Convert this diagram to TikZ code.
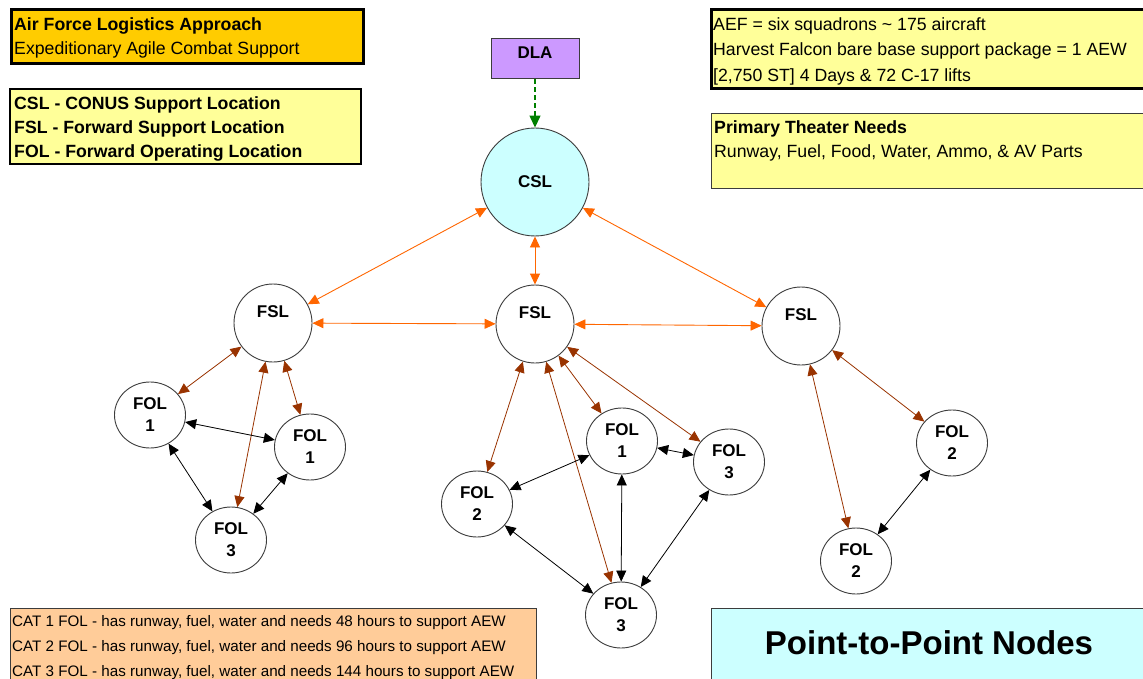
\documentclass[tikz,border=0pt]{standalone}
\usepackage{fontspec}
\setmainfont{Liberation Sans}
\usetikzlibrary{arrows.meta,shapes.geometric}

\definecolor{gold}{HTML}{FFCC00}
\definecolor{paleyellow}{HTML}{FFFF99}
\definecolor{peach}{HTML}{FFCC99}
\definecolor{palecyan}{HTML}{CCFFFF}
\definecolor{lilac}{HTML}{CC99FF}
\definecolor{linkorange}{HTML}{FF6600}
\definecolor{linkbrown}{HTML}{993300}
\definecolor{linkgreen}{HTML}{008000}
\definecolor{rimgray}{HTML}{3C3C3C}

\tikzset{
  panel/.style={draw=black, anchor=north west, inner sep=0pt},
  txt/.style={anchor=base west, inner sep=0pt, font=\fontsize{17.7}{20}\selectfont},
  smalltxt/.style={anchor=base west, inner sep=0pt, font=\fontsize{15.2}{18}\selectfont},
  site/.style={draw=rimgray, line width=0.9pt, fill=white, inner sep=0pt,
    font=\bfseries\fontsize{17}{22}\selectfont, align=center},
  hub/.style={site, circle, minimum size=108pt, fill=palecyan},
  fsl/.style={site, circle, minimum size=78pt, text height=12pt, text depth=23pt},
  fol/.style={site, ellipse, minimum width=71pt, minimum height=66pt},
  tips/.style={{Triangle[length=11pt,width=10pt]}-{Triangle[length=11pt,width=10pt]}},
  toplink/.style={tips, color=linkorange, line width=0.9pt},
  sublink/.style={tips, color=linkbrown, line width=0.8pt},
  peerlink/.style={tips, color=black, line width=0.8pt},
  supply/.style={-{Triangle[length=12pt,width=11pt]}, color=linkgreen,
    line width=1.3pt, dash pattern=on 5pt off 3pt}
}

\begin{document}
\begin{tikzpicture}[x=1pt,y=-1pt]
\useasboundingbox (0,0) rectangle (1143,679);
\clip (0,0) rectangle (1143,679);
\fill[white] (0,0) rectangle (1143,679);

% ---- information panels ----
\node[panel, fill=gold, line width=3pt, minimum width=352pt, minimum height=54pt] (approach) at (9.5,8.5) {};
\node[txt, font=\bfseries\fontsize{17.7}{20}\selectfont] (approachA) at (14,30.5) {Air Force Logistics Approach};
\node[txt] (approachB) at (14,55) {Expeditionary Agile Combat Support};

\node[panel, fill=paleyellow, line width=2pt, minimum width=351pt, minimum height=75pt] (legend) at (9,88) {};
\node[txt, font=\bfseries\fontsize{17.7}{20}\selectfont] (legendA) at (14,109.5) {CSL - CONUS Support Location};
\node[txt, font=\bfseries\fontsize{17.7}{20}\selectfont] (legendB) at (14,133.5) {FSL - Forward Support Location};
\node[txt, font=\bfseries\fontsize{17.7}{20}\selectfont] (legendC) at (14,157.5) {FOL - Forward Operating Location};

\node[panel, fill=paleyellow, line width=3pt, minimum width=460pt, minimum height=79pt] (aef) at (709.5,8.5) {};
\node[txt] (aefA) at (713,30.5) {AEF = six squadrons \textasciitilde{} 175 aircraft};
\node[txt] (aefB) at (713,55.7) {Harvest Falcon bare base support package = 1 AEW};
\node[txt] (aefC) at (713,81.5) {[2,750 ST] 4 Days \& 72 C-17 lifts};

\node[panel, draw=rimgray, fill=paleyellow, line width=1pt, minimum width=460pt, minimum height=75pt] (needs) at (710.5,113.5) {};
\node[txt, font=\bfseries\fontsize{17.7}{20}\selectfont] (needsA) at (714,133.3) {Primary Theater Needs};
\node[txt] (needsB) at (714,157.7) {Runway, Fuel, Food, Water, Ammo, \& AV Parts};

\node[panel, draw=rimgray, fill=peach, line width=1.2pt, minimum width=526pt, minimum height=100pt] (cats) at (9.5,607.5) {};
\node[smalltxt] (catA) at (12,626.5) {CAT 1 FOL - has runway, fuel, water and needs 48 hours to support AEW};
\node[smalltxt] (catB) at (12,651.5) {CAT 2 FOL - has runway, fuel, water and needs 96 hours to support AEW};
\node[smalltxt] (catC) at (12,676.5) {CAT 3 FOL - has runway, fuel, water and needs 144 hours to support AEW};

\node[panel, draw=rimgray, fill=palecyan, line width=1.2pt, minimum width=460pt, minimum height=100pt] (title) at (710.5,607.5) {};
\node[inner sep=0pt, anchor=base, font=\bfseries\fontsize{33}{40}\selectfont] (titletext) at (929,654) {Point-to-Point Nodes};

% ---- supply source and theater hub ----
\node[draw=rimgray, line width=1pt, fill=lilac, minimum width=88pt, minimum height=40pt,
  text height=12pt, text depth=13pt, font=\bfseries\fontsize{17}{20}\selectfont] (dla) at (535,59) {DLA};
\node[hub] (csl) at (535,182) {CSL};

% ---- forward support locations ----
\node[fsl] (fslL) at (273,323) {FSL};
\node[fsl] (fslM) at (535,324) {FSL};
\node[fsl] (fslR) at (801,326) {FSL};

% ---- forward operating locations ----
\node[fol] (folA1) at (150,415) {FOL\\1};
\node[fol] (folA2) at (310,447) {FOL\\1};
\node[fol] (folA3) at (231,540) {FOL\\3};

\node[fol] (folB1) at (622,441) {FOL\\1};
\node[fol] (folB2) at (729,462) {FOL\\3};
\node[fol] (folB3) at (477,504) {FOL\\2};
\node[fol] (folB4) at (621,615) {FOL\\3};

\node[fol] (folC1) at (952,443) {FOL\\2};
\node[fol] (folC2) at (856,561) {FOL\\2};

% ---- supply line ----
\draw[supply] (dla) -- (csl);

% ---- hub to forward support ----
\draw[toplink] (csl) -- (fslL);
\draw[toplink] (csl) -- (fslM);
\draw[toplink] (csl) -- (fslR);
\draw[toplink] (fslL) -- (fslM);
\draw[toplink] (fslM) -- (fslR);

% ---- forward support to operating locations ----
\draw[sublink] (fslL) -- (folA1);
\draw[sublink] (fslL) -- (folA2);
\draw[sublink] (fslL) -- (folA3);
\draw[sublink] (fslM) -- (folB3);
\draw[sublink] (fslM) -- (folB1);
\draw[sublink] (fslM) -- (folB2);
\draw[sublink] (fslM) -- (folB4);
\draw[sublink] (fslR) -- (folC1);
\draw[sublink] (fslR) -- (folC2);

% ---- operating location peer links ----
\draw[peerlink] (folA1) -- (folA2);
\draw[peerlink] (folA1) -- (folA3);
\draw[peerlink] (folA2) -- (folA3);
\draw[peerlink] (folB1) -- (folB3);
\draw[peerlink] (folB1) -- (folB2);
\draw[peerlink] (folB1) -- (folB4);
\draw[peerlink] (folB3) -- (folB4);
\draw[peerlink] (folB2) -- (folB4);
\draw[peerlink] (folC1) -- (folC2);
\end{tikzpicture}
\end{document}
